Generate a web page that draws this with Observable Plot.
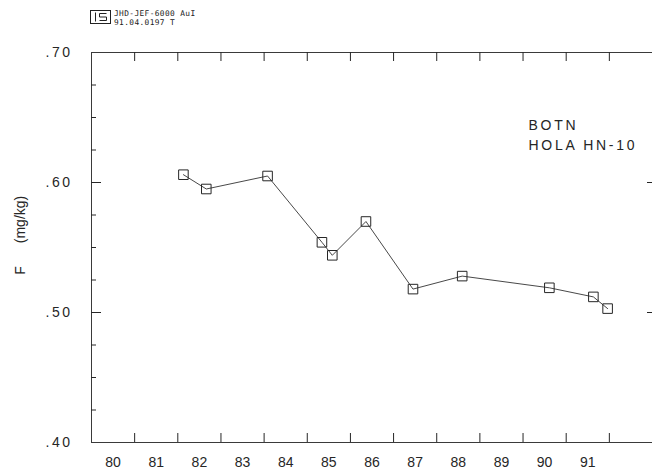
<!DOCTYPE html>
<html>
<head>
<meta charset="utf-8">
<script src="https://cdn.jsdelivr.net/npm/d3@7"></script>
<script src="https://cdn.jsdelivr.net/npm/@observablehq/plot@0.6"></script>
<style>
html, body { margin: 0; padding: 0; background: #fff; }
#wrap { position: relative; width: 652px; height: 473px; overflow: hidden; background: #fff; }
#hdr { position: absolute; left: 0; top: 0; }
#chart { position: absolute; left: 0; top: 0; }
</style>
</head>
<body>
<div id="wrap">
  <div id="chart"></div>
  <svg id="hdr" width="220" height="32" font-family="'DejaVu Sans Mono', monospace" font-size="7.8" fill="#222">
    <rect x="90.5" y="10.5" width="20" height="13" fill="none" stroke="#222" stroke-width="1"/>
    <path d="M95.5 12.5V21.5 M106.5 13.5H99.5V17H106.5V20.5H99.5" fill="none" stroke="#222" stroke-width="1"/>
    <text x="114" y="15.5" letter-spacing="0.4">JHD-JEF-6000 AuI</text>
    <text x="114" y="25" letter-spacing="0.4">91.04.0197 T</text>
  </svg>
</div>
<script>
// ---- data ----
const years    = [81.63, 82.16, 83.58, 84.84, 85.08, 85.86, 86.95, 88.09, 90.11, 91.13, 91.46];
const fluoride = [0.606, 0.595, 0.605, 0.554, 0.544, 0.570, 0.518, 0.528, 0.519, 0.512, 0.503];
const yearLabels = [80, 81, 82, 83, 84, 85, 86, 87, 88, 89, 90, 91];
const yearTicks  = [80.5, 81.5, 82.5, 83.5, 84.5, 85.5, 86.5, 87.5, 88.5, 89.5, 90.5, 91.5];
const yLabels = [0.40, 0.50, 0.60, 0.70];
const yMinor  = [0.425, 0.45, 0.475, 0.525, 0.55, 0.575, 0.625, 0.65, 0.675];
const yMajor  = [0.50, 0.60];
const notes   = ["BOTN", "HOLA HN-10"];
const yTitleSymbol = ["F"];
const yTitleUnit   = ["(mg/kg)"];

const data = years.map((x, i) => ({year: x, f: fluoride[i]}));

const W = 652, H = 473, mL = 91, mR = 0, mT = 52, mB = 31;
const pw = W - mL - mR, ph = H - mT - mB;
const ink = "#262626";

const chart = Plot.plot({
  width: W, height: H,
  marginLeft: mL, marginRight: mR, marginTop: mT, marginBottom: mB,
  style: {fontFamily: "'Liberation Sans', Arial, sans-serif", fontSize: "14px", color: ink, background: "#fff"},
  x: {domain: [79.5, 92.5]},
  y: {domain: [0.40, 0.70]},
  marks: [
    Plot.axisX(yearLabels, {tickSize: 0, tickPadding: 15, fontSize: 14, label: null, fill: ink}),
    Plot.axisY(yLabels, {tickSize: 0, tickPadding: 19, fontSize: 14, label: null, fill: ink,
      tickFormat: d => d.toFixed(2).slice(1)}),
    // frame: top, bottom, left
    Plot.ruleY([0.70, 0.40], {stroke: "#3a3a3a", strokeWidth: 1}),
    Plot.ruleX([79.5], {stroke: "#3a3a3a", strokeWidth: 1}),
    // year ticks on bottom and top
    Plot.tickX(yearTicks, {x: d => d, insetTop: ph - 9, stroke: ink}),
    Plot.tickX(yearTicks, {x: d => d, insetBottom: ph - 9, stroke: ink}),
    // y ticks on left (minor and major) and right
    Plot.tickY(yMinor, {y: d => d, insetRight: pw - 5, stroke: ink}),
    Plot.tickY(yMajor, {y: d => d, insetRight: pw - 10, stroke: ink}),
    Plot.tickY(yMajor, {y: d => d, insetLeft: pw - 5, stroke: ink}),
    // data
    Plot.line(data, {x: "year", y: "f", stroke: "#333", strokeWidth: 0.9}),
    Plot.dot(data, {x: "year", y: "f", symbol: "square", r: 5.4, stroke: ink, fill: "none", strokeWidth: 1}),
    // annotation
    Plot.text([notes.join("\n")], {frameAnchor: "top-left", dx: 437, dy: 63, textAnchor: "start",
      lineAnchor: "top", lineHeight: 1.43, fontSize: 14, fill: ink}),
    // y title
    Plot.text(yTitleSymbol, {frameAnchor: "left", rotate: -90, dx: -71, dy: 23, textAnchor: "middle",
      fontSize: 14, fill: ink}),
    Plot.text(yTitleUnit, {frameAnchor: "left", rotate: -90, dx: -71, dy: -28, textAnchor: "middle",
      fontSize: 14, fill: ink})
  ]
});

const textGroups = chart.querySelectorAll('g[aria-label="text"]');
if (textGroups[0]) textGroups[0].setAttribute("letter-spacing", "2.7");
const yl = chart.querySelector('g[aria-label="y-axis tick label"]');
if (yl) yl.setAttribute("letter-spacing", "2.5");

document.getElementById("chart").appendChild(chart);
</script>
</body>
</html>
